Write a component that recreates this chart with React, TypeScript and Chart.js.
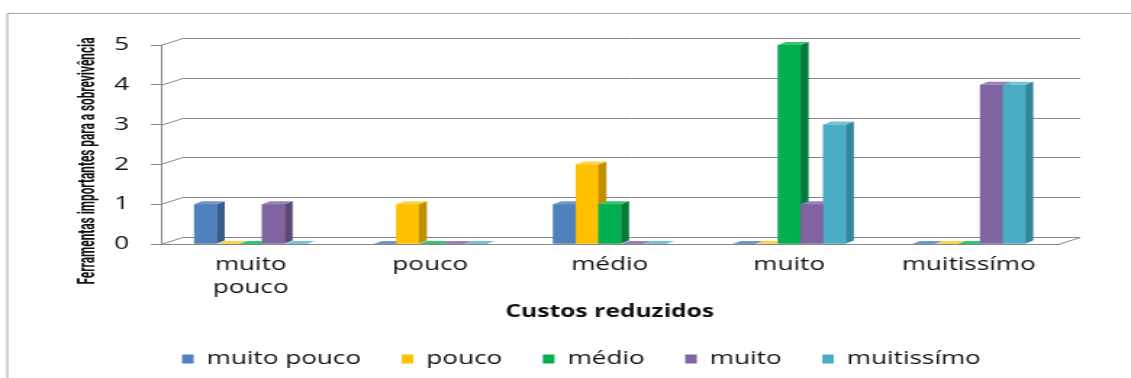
import React, { useEffect, useRef } from 'react';
import { Chart, registerables } from 'chart.js';

Chart.register(...registerables);

// ---- data ----
const categories = ['muito pouco', 'pouco', 'médio', 'muito', 'muitissímo'];
const seriesNames = ['muito pouco', 'pouco', 'médio', 'muito', 'muitissímo'];
const muitoPoucoValues = [1, 0, 1, 0, 0];
const poucoValues = [0, 1, 2, 0, 0];
const medioValues = [0, 0, 1, 5, 0];
const muitoValues = [1, 0, 0, 1, 4];
const muitissimoValues = [0, 0, 0, 3, 4];
const yMin = 0;
const yMax = 5;
const yStep = 1;
const xTitle = 'Custos reduzidos';
const yTitle = 'Ferramentas importantes para a sobrevivência';

// ---- styles ----
const frontColors = ['#4F81BD', '#FFC000', '#00B050', '#8064A2', '#4BACC6'];
const sideColors = ['#385D8A', '#C08F00', '#007A37', '#5C4776', '#31859C'];
const topColors = ['#6F97CC', '#FFD24D', '#33C474', '#9A82B8', '#78C2D6'];

const LOGICAL_W = 780;
const H = 378;
const DISPLAY_W = 1131;
const BACK_DX = 15;
const BACK_DY = 7;
const BAR_DX = 5.5;
const BAR_DY = 3;
const GRID_COLOR = '#868686';
const FONT = "'Open Sans', 'DejaVu Sans', sans-serif";

const threeD = {
  id: 'threeD',
  beforeDraw(chart: any) {
    const ctx = chart.ctx;
    ctx.save();
    ctx.fillStyle = '#ffffff';
    ctx.fillRect(0, 0, chart.width, chart.height);
    ctx.strokeStyle = '#a6a6a6';
    ctx.lineWidth = 1;
    ctx.beginPath();
    ctx.moveTo(5, chart.height);
    ctx.lineTo(5, 13.5);
    ctx.lineTo(chart.width, 13.5);
    ctx.stroke();
    ctx.restore();
  },
  beforeDatasetsDraw(chart: any) {
    const ctx = chart.ctx;
    const y = chart.scales.y;
    const { left, right } = chart.chartArea;
    ctx.save();
    ctx.strokeStyle = GRID_COLOR;
    ctx.lineWidth = 1;
    y.ticks.forEach((t: any) => {
      const yf = Math.round(y.getPixelForValue(t.value)) + 0.5;
      const yb = yf - BACK_DY;
      ctx.beginPath();
      ctx.moveTo(left, yf);
      ctx.lineTo(left + BACK_DX, yb);
      ctx.lineTo(right + BACK_DX, yb);
      ctx.stroke();
    });
    const y0 = Math.round(y.getPixelForValue(yMin)) + 0.5;
    ctx.beginPath();
    ctx.moveTo(right, y0);
    ctx.lineTo(right + BACK_DX, y0 - BACK_DY);
    ctx.stroke();
    ctx.restore();
  },
  afterDatasetsDraw(chart: any) {
    const ctx = chart.ctx;
    ctx.save();
    chart.data.datasets.forEach((ds: any, d: number) => {
      const meta = chart.getDatasetMeta(d);
      meta.data.forEach((bar: any) => {
        const { x, y, base, width } = bar.getProps(['x', 'y', 'base', 'width'], true);
        const l = x - width / 2;
        const r = x + width / 2;
        if (base - y > 0.5) {
          ctx.fillStyle = frontColors[d];
          ctx.fillRect(l, y, width, base - y);
          ctx.fillStyle = sideColors[d];
          ctx.beginPath();
          ctx.moveTo(r, y);
          ctx.lineTo(r + BAR_DX, y - BAR_DY);
          ctx.lineTo(r + BAR_DX, base - BAR_DY);
          ctx.lineTo(r, base);
          ctx.closePath();
          ctx.fill();
        }
        ctx.fillStyle = topColors[d];
        ctx.beginPath();
        ctx.moveTo(l, y);
        ctx.lineTo(l + BAR_DX, y - BAR_DY);
        ctx.lineTo(r + BAR_DX, y - BAR_DY);
        ctx.lineTo(r, y);
        ctx.closePath();
        ctx.fill();
      });
    });
    ctx.restore();
  },
  afterDraw(chart: any) {
    const ctx = chart.ctx;
    ctx.save();
    ctx.font = "bold 16px Roboto, 'Liberation Sans', sans-serif";
    ctx.fillStyle = '#111111';
    ctx.textAlign = 'center';
    ctx.textBaseline = 'middle';
    const w = ctx.measureText(yTitle).width;
    ctx.translate(61, 161);
    ctx.rotate(-Math.PI / 2);
    ctx.scale(247 / w, 1);
    ctx.fillText(yTitle, 0, 0);
    ctx.restore();
  },
};

export default function App() {
  const canvasRef = useRef<HTMLCanvasElement | null>(null);

  useEffect(() => {
    const canvas = canvasRef.current;
    if (!canvas) return;
    const values = [muitoPoucoValues, poucoValues, medioValues, muitoValues, muitissimoValues];
    const chart = new Chart(canvas, {
      type: 'bar',
      data: {
        labels: categories,
        datasets: seriesNames.map((name, i) => ({
          label: name,
          data: values[i],
          backgroundColor: frontColors[i],
          borderWidth: 0,
          categoryPercentage: 0.63,
          barPercentage: 1.0,
        })),
      },
      options: {
        responsive: false,
        maintainAspectRatio: false,
        animation: false,
        devicePixelRatio: 1,
        events: [],
        layout: { padding: { top: 45, left: 72, right: 50, bottom: 0 } },
        scales: {
          x: {
            afterFit: (s: any) => { s.height = 78; },
            grid: { display: false },
            border: { display: true, color: GRID_COLOR, width: 1 },
            ticks: {
              color: '#111111',
              padding: 2,
              font: { family: FONT, size: 18, lineHeight: 1.25 },
              maxRotation: 0,
              autoSkip: false,
              callback: (_v: any, i: number) => categories[i].split(' '),
            },
            title: {
              display: true,
              text: xTitle,
              color: '#111111',
              font: { family: FONT, size: 17, weight: 'bold', lineHeight: 1.2 },
              padding: { top: 0, bottom: 0 },
            },
          },
          y: {
            min: yMin,
            max: yMax,
            afterFit: (s: any) => { s.width = 39; },
            grid: { display: true, drawOnChartArea: false, drawTicks: true, tickLength: 7, color: GRID_COLOR },
            border: { display: true, color: GRID_COLOR, width: 1 },
            ticks: {
              stepSize: yStep,
              color: '#111111',
              padding: 15,
              font: { family: FONT, size: 18 },
            },
          },
        },
        plugins: {
          legend: {
            position: 'bottom',
            maxHeight: 60,
            labels: {
              boxWidth: 8,
              boxHeight: 9,
              padding: 28,
              color: '#111111',
              font: { family: FONT, size: 18 },
            },
          },
          tooltip: { enabled: false },
        },
      },
      plugins: [threeD],
    } as any);
    return () => chart.destroy();
  }, []);

  return (
    <div style={{ position: 'fixed', left: 0, top: 0, width: DISPLAY_W, height: H, background: '#fff', overflow: 'hidden' }}>
      <canvas
        ref={canvasRef}
        width={LOGICAL_W}
        height={H}
        style={{ display: 'block', width: DISPLAY_W + 'px', height: H + 'px' }}
      />
    </div>
  );
}
